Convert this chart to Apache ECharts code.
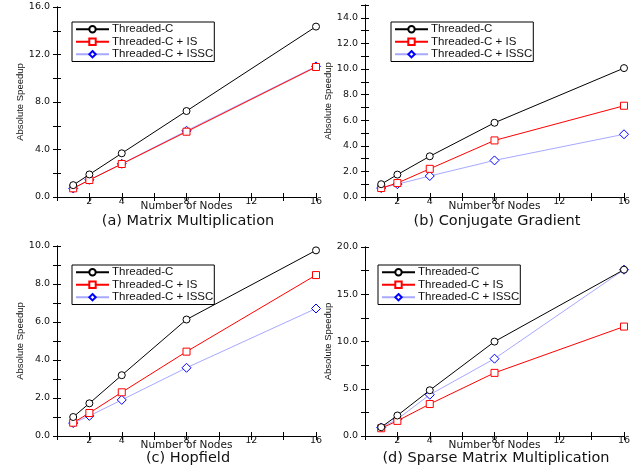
<!DOCTYPE html>
<html>
<head>
<meta charset="utf-8">
<script src="https://cdn.jsdelivr.net/npm/echarts@6/dist/echarts.min.js"></script>
<style>
html,body{margin:0;padding:0;background:#fff;}
#chart{width:636px;height:467px;}
</style>
</head>
<body>
<div id="chart"></div>
<script>
// ---- data ----
const nodes = [1, 2, 4, 8, 16];
const xTickLabels = [2, 4, 8, 12, 16];
const seriesNames = ['Threaded-C', 'Threaded-C + IS', 'Threaded-C + ISSC'];

const mmC    = [1.0, 1.9, 3.68, 7.24, 14.35];
const mmIS   = [0.73, 1.43, 2.78, 5.5, 10.95];
const mmISSC = [0.72, 1.45, 2.8, 5.58, 11.0];

const cgC    = [1.0, 1.75, 3.18, 5.8, 10.07];
const cgIS   = [0.7, 1.09, 2.2, 4.42, 7.13];
const cgISSC = [0.7, 1.0, 1.64, 2.86, 4.9];

const hfC    = [1.0, 1.72, 3.2, 6.13, 9.77];
const hfIS   = [0.7, 1.21, 2.3, 4.44, 8.47];
const hfISSC = [0.68, 1.06, 1.9, 3.59, 6.71];

const smC    = [0.93, 2.17, 4.84, 9.99, 17.6];
const smIS   = [0.82, 1.6, 3.38, 6.68, 11.58];
const smISSC = [0.9, 1.78, 4.37, 8.18, 17.6];

const yMax = [16, 15, 10, 20];
const yLabelStep = [4, 2, 2, 5];
const captions = ['(a) Matrix Multiplication', '(b) Conjugate Gradient', '(c) Hopfield', '(d) Sparse Matrix Multiplication'];
const xName = 'Number of Nodes';
const yName = 'Absolute Speedup';

// ---- layout ----
const grids = [
  {left: 57, top: 7, width: 259, height: 190},
  {left: 365, top: 5, width: 259, height: 192},
  {left: 57, top: 246, width: 259, height: 190},
  {left: 365, top: 247, width: 259, height: 189}
];
const legendPos = [
  {left: 72, top: 22},
  {left: 391, top: 22},
  {left: 72, top: 265},
  {left: 378, top: 265}
];
const captionPos = [[188, 221], [497, 221], [188, 458], [496, 458]];
const panelData = [
  [mmC, mmIS, mmISSC],
  [cgC, cgIS, cgISSC],
  [hfC, hfIS, hfISSC],
  [smC, smIS, smISSC]
];

const styles = [
  {symbol: 'circle', size: 7, line: '#000000', mark: '#000000'},
  {symbol: 'rect', size: 7, line: '#ff0000', mark: '#ff0000'},
  {symbol: 'diamond', size: 9, line: '#a8a8ff', mark: '#0000ff'}
];

const tickFont = 'DejaVu Sans';
const xAxes = [], yAxes = [], series = [], legends = [], graphics = [];
const near = (a, b) => Math.abs(a - b) < 1e-6;

grids.forEach((g, i) => {
  const axisLine = {show: true, lineStyle: {color: '#000', width: 1}};
  const tickIn = {show: true, inside: true, length: 4, lineStyle: {color: '#000'}};
  xAxes.push({
    gridIndex: i, type: 'value', min: 0, max: 16, interval: 2, position: 'bottom',
    axisLine: axisLine, axisTick: tickIn,
    axisLabel: {
      margin: 0, fontSize: 9.5, color: '#111', fontFamily: tickFont,
      formatter: v => xTickLabels.includes(v) ? String(v) : ''
    },
    splitLine: {show: false},
    name: xName, nameLocation: 'middle', nameGap: 4, nameMoveOverlap: false,
    nameTextStyle: {fontSize: 10.5, color: '#111', fontFamily: tickFont, verticalAlign: 'top'}
  });
  xAxes.push({
    gridIndex: i, type: 'value', min: 0, max: 16, interval: 2, position: 'top',
    axisLine: axisLine, axisTick: tickIn,
    axisLabel: {show: false}, splitLine: {show: false}
  });
  const step = yLabelStep[i];
  yAxes.push({
    gridIndex: i, type: 'value', min: 0, max: yMax[i], interval: step / 2, position: 'left',
    axisLine: axisLine, axisTick: tickIn,
    axisLabel: {
      margin: 7, fontSize: 9.5, color: '#111', fontFamily: tickFont,
      formatter: v => near(v / step, Math.round(v / step)) ? v.toFixed(1) : ''
    },
    splitLine: {show: false},
    name: yName, nameLocation: 'middle', nameGap: 32, nameRotate: 90, nameMoveOverlap: false,
    nameTextStyle: {fontSize: 9.5, color: '#111', fontFamily: 'Liberation Sans'}
  });
  yAxes.push({
    gridIndex: i, type: 'value', min: 0, max: yMax[i], interval: step / 2, position: 'right',
    axisLine: axisLine, axisTick: tickIn,
    axisLabel: {show: false}, splitLine: {show: false}
  });

  panelData[i].forEach((vals, k) => {
    const s = styles[k];
    series.push({
      type: 'line', name: seriesNames[k],
      xAxisIndex: i * 2, yAxisIndex: i * 2,
      data: nodes.map((n, j) => [n, vals[j]]),
      symbol: s.symbol, symbolSize: s.size, showSymbol: true,
      lineStyle: {color: s.line, width: 1},
      itemStyle: {color: '#fff', borderColor: s.mark, borderWidth: 1},
      emphasis: {disabled: true},
      animation: false, z: 10 - k
    });
  });

  legends.push({
    left: legendPos[i].left, top: legendPos[i].top, orient: 'vertical',
    data: seriesNames, itemGap: 0, itemWidth: 33, itemHeight: 8,
    padding: [1, 1, 1, 3], borderColor: '#000', borderWidth: 1, backgroundColor: '#fff',
    selectedMode: false,
    textStyle: {fontSize: 11.5, lineHeight: 12.5, color: '#111', fontFamily: 'Liberation Sans', padding: [0, 0, 0, -2]}
  });

  graphics.push({
    type: 'text', x: captionPos[i][0], y: captionPos[i][1],
    style: {text: captions[i], fontSize: 14.5, fill: '#111', fontFamily: 'DejaVu Sans', textAlign: 'center', textVerticalAlign: 'middle'}
  });
});

const chart = echarts.init(document.getElementById('chart'), null, {renderer: 'canvas'});
chart.setOption({
  backgroundColor: '#fff',
  animation: false,
  grid: grids,
  xAxis: xAxes,
  yAxis: yAxes,
  legend: legends,
  series: series,
  graphic: graphics
});
</script>
</body>
</html>
